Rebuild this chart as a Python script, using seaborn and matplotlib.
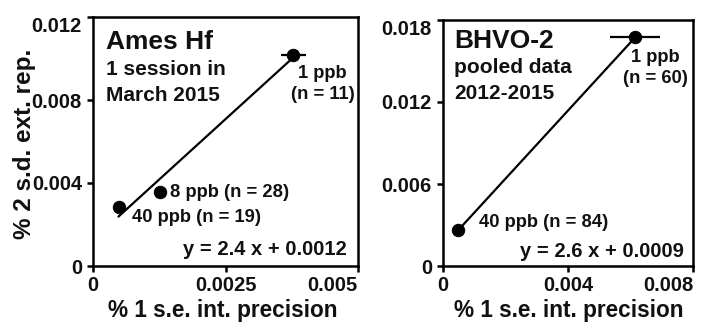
import matplotlib
matplotlib.use("Agg")
import matplotlib.pyplot as plt
import seaborn as sns
import pandas as pd
import numpy as np

# ---- data ----
ames_labels = ["1 ppb", "8 ppb", "40 ppb"]
ames_x = [0.00378, 0.00126, 0.00049]
ames_y = [0.01017, 0.00358, 0.00286]
ames_xerr = [0.00023, 0.0, 0.0]
ames_fit_x = [0.00048, 0.00377]
ames_fit_y = [0.00238, 0.01003]

bhvo_labels = ["1 ppb", "40 ppb"]
bhvo_x = [0.00615, 0.00049]
bhvo_y = [0.01673, 0.00263]
bhvo_xerr = [0.0008, 0.0]
bhvo_fit_x = [0.00049, 0.00615]
bhvo_fit_y = [0.00263, 0.01673]

ames_xticks = [0, 0.0025, 0.005]
ames_xticklabels = ["0", "0.0025", "0.005"]
ames_yticks = [0, 0.004, 0.008, 0.012]
ames_yticklabels = ["0", "0.004", "0.008", "0.012"]
bhvo_xticks = [0, 0.004, 0.008]
bhvo_xticklabels = ["0", "0.004", "0.008"]
bhvo_yticks = [0, 0.006, 0.012, 0.018]
bhvo_yticklabels = ["0", "0.006", "0.012", "0.018"]

xlabel = "% 1 s.e. int. precision"
ylabel = "% 2 s.d. ext. rep."

sns.set_style("ticks")
plt.rcParams["font.family"] = ["Liberation Sans Narrow", "Liberation Sans", "DejaVu Sans"]
plt.rcParams["font.weight"] = "bold"

fig = plt.figure(figsize=(7.02, 3.25), dpi=100)
W, H = 702, 325
def axrect(l, t, r, b):
    return [l / W, 1 - b / H, (r - l) / W, (b - t) / H]

ax1 = fig.add_axes(axrect(93, 17, 358, 266))
ax2 = fig.add_axes(axrect(443, 20, 693, 266))

TXT = "#111111"
FS_TICK = 14.5
FS_XLAB = 16.3
FS_YLAB = 17.5
FS_TITLE = 19
FS_SUB = 15
FS_ANN = 13.2
FS_EQ = 14.5

def style(ax, xt, xtl, yt, ytl, xlim, ylim):
    ax.set_xlim(*xlim)
    ax.set_ylim(*ylim)
    ax.set_xticks(xt)
    ax.set_xticklabels(xtl, fontsize=FS_TICK, fontweight="bold", color=TXT)
    ax.set_yticks(yt)
    ax.set_yticklabels(ytl, fontsize=FS_TICK, fontweight="bold", color=TXT)
    ax.tick_params(axis="x", direction="out", length=4, width=1.8, pad=3.5, color="black")
    ax.tick_params(axis="y", direction="out", length=4, width=1.8, pad=4, color="black")
    for s in ax.spines.values():
        s.set_visible(True)
        s.set_linewidth(1.8)
        s.set_color("black")
    xl = ax.get_xticklabels()
    xl[-1].set_horizontalalignment("right")
    yl = ax.get_yticklabels()
    yl[-1].set_verticalalignment("top")
    ax.set_xlabel(xlabel, fontsize=FS_XLAB, fontweight="bold", color=TXT)
    ax.xaxis.label.set_verticalalignment("baseline")

style(ax1, ames_xticks, ames_xticklabels, ames_yticks, ames_yticklabels, (0, 0.005), (0, 0.012))
style(ax2, bhvo_xticks, bhvo_xticklabels, bhvo_yticks, bhvo_yticklabels, (0, 0.008), (0, 0.018))

ax1.set_ylabel(ylabel, fontsize=FS_YLAB, fontweight="bold", color=TXT)
ax1.yaxis.set_label_coords(-0.215, 0.49)
ax1.xaxis.set_label_coords(0.49, -(317 - 266) / 249)
ax2.xaxis.set_label_coords(0.505, -(317 - 266) / 246)

# fit lines
sns.lineplot(x=ames_fit_x, y=ames_fit_y, ax=ax1, color="black", lw=1.6, zorder=2)
sns.lineplot(x=bhvo_fit_x, y=bhvo_fit_y, ax=ax2, color="black", lw=1.6, zorder=2)

# error bars
ax1.errorbar(ames_x, ames_y, xerr=ames_xerr, fmt="none", ecolor="black", elinewidth=1.6, capsize=0, zorder=3)
ax2.errorbar(bhvo_x, bhvo_y, xerr=bhvo_xerr, fmt="none", ecolor="black", elinewidth=1.6, capsize=0, zorder=3)

# points
sns.scatterplot(x=ames_x, y=ames_y, ax=ax1, color="black", s=80, edgecolor="black", zorder=4)
sns.scatterplot(x=bhvo_x, y=bhvo_y, ax=ax2, color="black", s=80, edgecolor="black", zorder=4)

tk = dict(fontweight="bold", color=TXT)
# left panel texts
ax1.text(0.05, 0.872, "Ames Hf", transform=ax1.transAxes, fontsize=FS_TITLE, va="baseline", ha="left", **tk)
ax1.text(0.05, 0.768, "1 session in", transform=ax1.transAxes, fontsize=FS_SUB, va="baseline", ha="left", **tk)
ax1.text(0.05, 0.664, "March 2015", transform=ax1.transAxes, fontsize=FS_SUB, va="baseline", ha="left", **tk)
ax1.text(0.867, 0.756, "1 ppb", transform=ax1.transAxes, fontsize=FS_ANN, va="baseline", ha="center", **tk)
ax1.text(0.867, 0.672, "(n = 11)", transform=ax1.transAxes, fontsize=FS_ANN, va="baseline", ha="center", **tk)
ax1.text(0.290, 0.276, "8 ppb (n = 28)", transform=ax1.transAxes, fontsize=FS_ANN, va="baseline", ha="left", **tk)
ax1.text(0.148, 0.176, "40 ppb (n = 19)", transform=ax1.transAxes, fontsize=FS_ANN, va="baseline", ha="left", **tk)
ax1.text(0.958, 0.044, "y = 2.4 x + 0.0012", transform=ax1.transAxes, fontsize=FS_EQ, va="baseline", ha="right", **tk)

# right panel texts
ax2.text(0.044, 0.886, "BHVO-2", transform=ax2.transAxes, fontsize=FS_TITLE, va="baseline", ha="left", **tk)
ax2.text(0.044, 0.785, "pooled data", transform=ax2.transAxes, fontsize=FS_SUB, va="baseline", ha="left", **tk)
ax2.text(0.044, 0.679, "2012-2015", transform=ax2.transAxes, fontsize=FS_SUB, va="baseline", ha="left", **tk)
ax2.text(0.848, 0.829, "1 ppb", transform=ax2.transAxes, fontsize=FS_ANN, va="baseline", ha="center", **tk)
ax2.text(0.848, 0.744, "(n = 60)", transform=ax2.transAxes, fontsize=FS_ANN, va="baseline", ha="center", **tk)
ax2.text(0.144, 0.159, "40 ppb (n = 84)", transform=ax2.transAxes, fontsize=FS_ANN, va="baseline", ha="left", **tk)
ax2.text(0.964, 0.037, "y = 2.6 x + 0.0009", transform=ax2.transAxes, fontsize=FS_EQ, va="baseline", ha="right", **tk)

fig.savefig("out.png", dpi=100, facecolor="white")
